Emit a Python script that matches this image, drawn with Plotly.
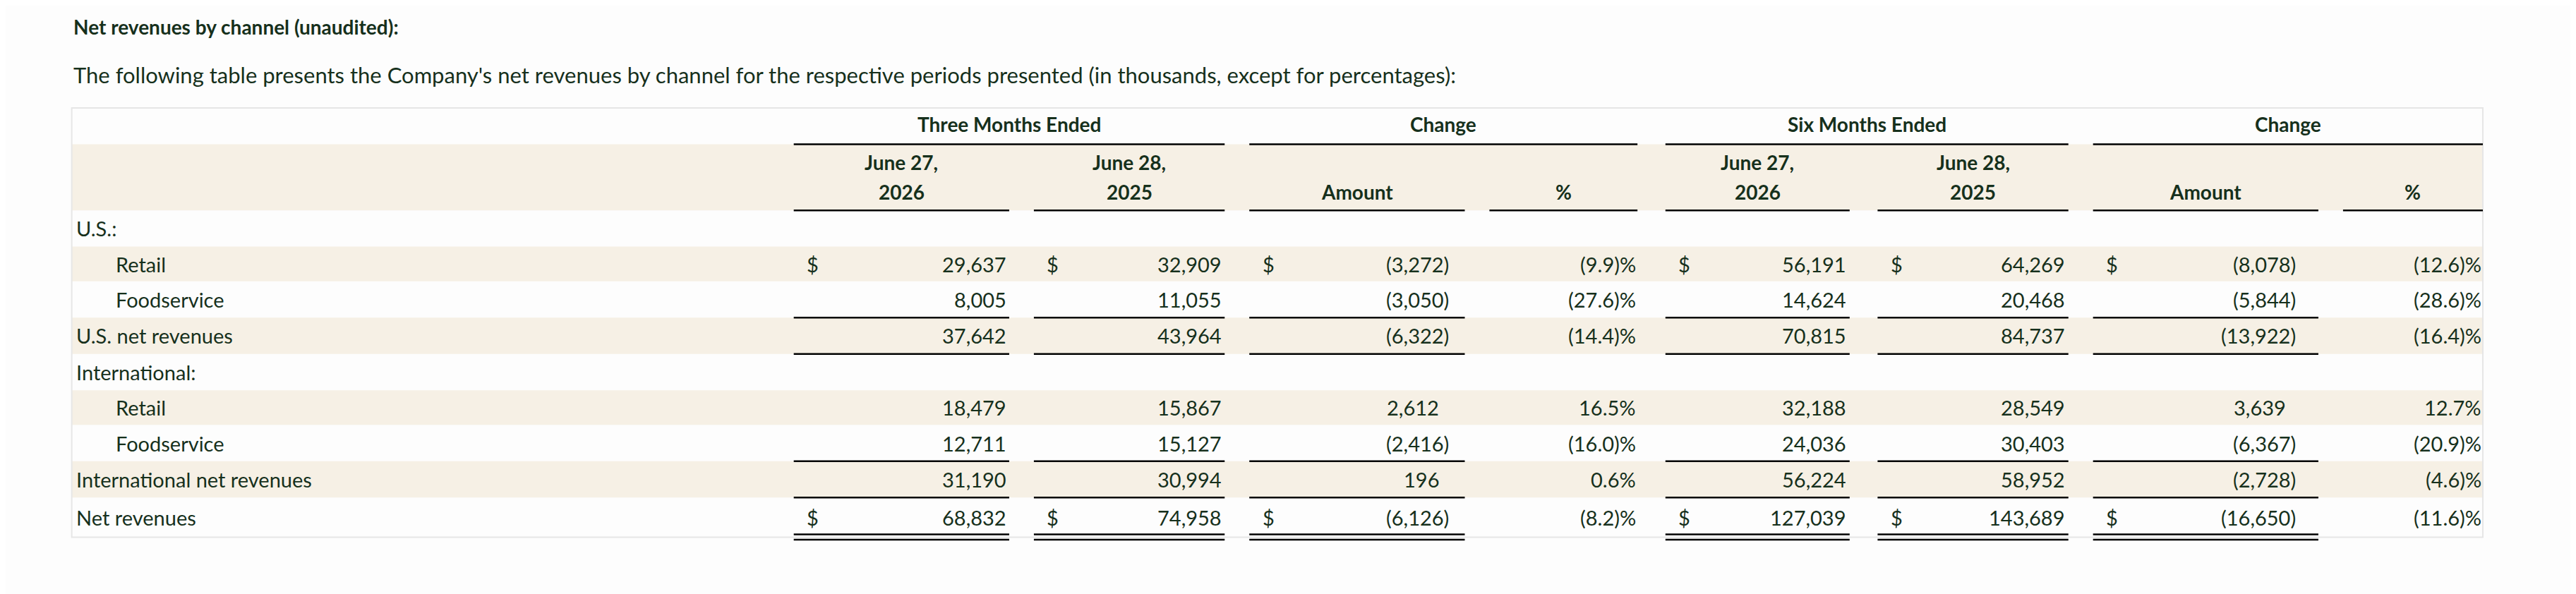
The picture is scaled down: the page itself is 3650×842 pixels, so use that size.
import plotly.graph_objects as go

# ---- data -------------------------------------------------------------
row_labels = ["U.S.:", "Retail", "Foodservice", "U.S. net revenues", "International:",
              "Retail", "Foodservice", "International net revenues", "Net revenues"]
row_indent = [0, 1, 1, 0, 0, 1, 1, 0, 0]
row_shaded = [0, 1, 0, 1, 0, 1, 0, 1, 0]
dollar_rows = [1, 8]

three_jun27_2026 = ["", "29,637", "8,005", "37,642", "", "18,479", "12,711", "31,190", "68,832"]
three_jun28_2025 = ["", "32,909", "11,055", "43,964", "", "15,867", "15,127", "30,994", "74,958"]
three_chg_amount = ["", "(3,272)", "(3,050)", "(6,322)", "", "2,612", "(2,416)", "196", "(6,126)"]
three_chg_pct = ["", "(9.9)%", "(27.6)%", "(14.4)%", "", "16.5%", "(16.0)%", "0.6%", "(8.2)%"]
six_jun27_2026 = ["", "56,191", "14,624", "70,815", "", "32,188", "24,036", "56,224", "127,039"]
six_jun28_2025 = ["", "64,269", "20,468", "84,737", "", "28,549", "30,403", "58,952", "143,689"]
six_chg_amount = ["", "(8,078)", "(5,844)", "(13,922)", "", "3,639", "(6,367)", "(2,728)", "(16,650)"]
six_chg_pct = ["", "(12.6)%", "(28.6)%", "(16.4)%", "", "12.7%", "(20.9)%", "(4.6)%", "(11.6)%"]

group_headers = ["Three Months Ended", "Change", "Six Months Ended", "Change"]
col_head_top = ["June 27,", "June 28,", "", "", "June 27,", "June 28,", "", ""]
col_head_bot = ["2026", "2025", "Amount", "%", "2026", "2025", "Amount", "%"]

title = "Net revenues by channel (unaudited):"
subtitle = ("The following table presents the Company's net revenues by channel for the "
            "respective periods presented (in thousands, except for percentages):")

# ---- layout (measured in preview px, scaled to 3650 wide) -------------
S = 3650 / 1560
W, H = 3650, 842
TXT = "#16301c"
SHADE = "#f6f0e5"
FONT = "Lato"

columns = [three_jun27_2026, three_jun28_2025, three_chg_amount, three_chg_pct,
           six_jun27_2026, six_jun28_2025, six_chg_amount, six_chg_pct]
col_lr = [(483, 614), (629, 745), (760, 891), (906, 996),
          (1013, 1125), (1142, 1258), (1273, 1410), (1425, 1510)]
num_right = [613, 744, 882, 996, 1124, 1257, 1397, 1510]
is_pct = [0, 0, 0, 1, 0, 0, 0, 1]
is_chg = [0, 0, 1, 0, 0, 0, 1, 0]
groups = [(483, 745), (760, 996), (1013, 1258), (1273, 1510)]

tbl_l, tbl_r, tbl_t = 44, 1510, 66
row_bounds = [128, 150, 171, 193, 215, 237, 258, 280, 302, 326]

shapes, ann = [], []


def sx(v):
    return (v * 0.996 - 3.8) * S


def sy(v):
    return (v - 4) * S


def rect(x0, y0, x1, y1, color):
    shapes.append(dict(type="rect", x0=sx(x0), x1=sx(x1), y0=sy(y0), y1=sy(y1),
                       fillcolor=color, line=dict(width=0), layer="below"))


def hline(x0, x1, y, w=2.5, color="black"):
    shapes.append(dict(type="line", x0=sx(x0), x1=sx(x1), y0=sy(y), y1=sy(y),
                       line=dict(color=color, width=w)))


def text(x, y, t, anchor="left", size=29, bold=False):
    ann.append(dict(x=sx(x), y=sy(y), text=f"<b>{t}</b>" if bold else t, showarrow=False,
                    xanchor=anchor, yanchor="middle",
                    font=dict(family=FONT, size=size, color=TXT)))


# header band + shaded rows
rect(tbl_l, 88, tbl_r, 128, SHADE)
for i, sh in enumerate(row_shaded):
    if sh:
        rect(tbl_l, row_bounds[i], tbl_r, row_bounds[i + 1], SHADE)

# outer border
shapes.append(dict(type="rect", x0=sx(tbl_l), x1=sx(tbl_r), y0=sy(tbl_t), y1=sy(row_bounds[-1]),
                   line=dict(color="#e6e6e6", width=2), fillcolor="rgba(0,0,0,0)"))

# titles
text(44, 17, title, size=28, bold=True)
text(44, 46, subtitle, size=31)

# group headers
for (g0, g1), g in zip(groups, group_headers):
    text((g0 + g1) / 2, 76, g, anchor="center", size=28, bold=True)
    hline(g0, g1, 88)

# column headers
for (c0, c1), top, bot in zip(col_lr, col_head_top, col_head_bot):
    cx = (c0 + c1) / 2
    if top:
        text(cx, 99, top, anchor="center", size=28, bold=True)
    text(cx, 117, bot, anchor="center", size=28, bold=True)
    hline(c0, c1, 128)

# body
for i, lab in enumerate(row_labels):
    yc = (row_bounds[i] + row_bounds[i + 1]) / 2
    text(70 if row_indent[i] else 46, yc, lab)
    for j, col in enumerate(columns):
        v = col[i]
        if not v:
            continue
        xr = num_right[j]
        if is_chg[j] and not v.endswith(")"):
            xr -= 6
        text(xr, yc, v, anchor="right")
        if i in dollar_rows and not is_pct[j]:
            text(col_lr[j][0] + 7, yc, "$")

# underlines for totals
for j, (c0, c1) in enumerate(col_lr):
    if is_pct[j]:
        continue
    for yb in (193, 215, 280, 302):
        hline(c0, c1, yb)
    hline(c0, c1, 324.3)
    hline(c0, c1, 327.5)

fig = go.Figure()
fig.update_layout(
    width=W, height=H, margin=dict(l=0, r=0, t=0, b=0),
    paper_bgcolor="#fdfdfd", plot_bgcolor="#fdfdfd",
    xaxis=dict(range=[0, W], visible=False, fixedrange=True),
    yaxis=dict(range=[H, 0], visible=False, fixedrange=True),
    shapes=shapes, annotations=ann, showlegend=False,
)
fig.write_html("out.html", config={"displayModeBar": False})
